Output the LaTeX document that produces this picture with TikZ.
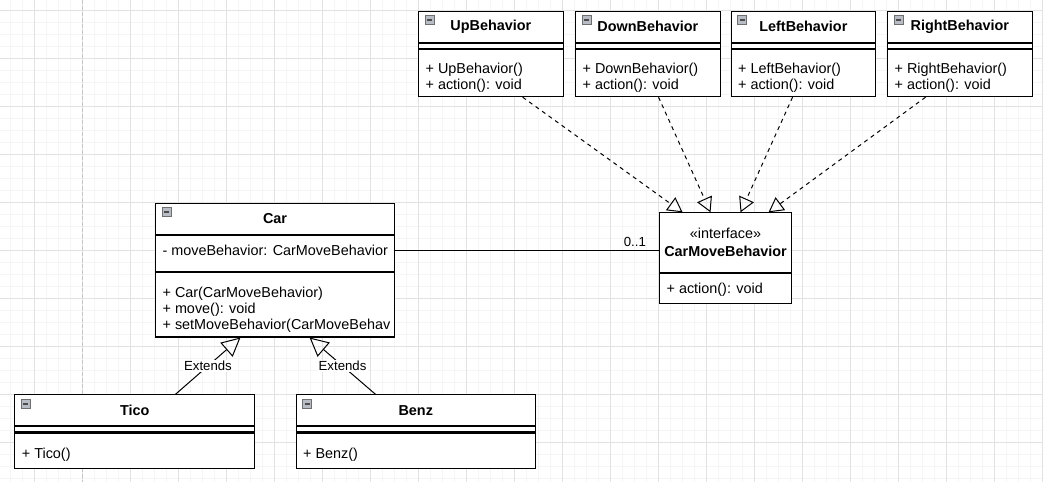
\documentclass[tikz,border=0pt]{standalone}
\usepackage{fontspec}
\setmainfont{Liberation Sans}
\usepackage{tikz}
\usetikzlibrary{arrows.meta}
\usetikzlibrary{positioning}

\definecolor{gridminor}{HTML}{F5F5F5}
\definecolor{gridmajor}{HTML}{E2E2E2}
\definecolor{pageline}{HTML}{C4C4C4}
\definecolor{iconfill}{HTML}{B8BCC4}
\definecolor{iconline}{HTML}{6E6E6E}

\newcommand{\umlfont}{\fontsize{10.8pt}{12pt}\selectfont}
\newcommand{\notefont}{\fontsize{9.9pt}{11pt}\selectfont}

\tikzset{
    umlbox/.style={draw, fill=white, inner sep=0pt, line width=0.8pt},
    classname/.style={umlbox, anchor=north west, minimum height=23.25pt, font=\umlfont\bfseries},
    withicon/.style={path picture={
        \draw [iconline, fill=iconfill, line width=0.4pt]
            ([shift={(6.5,4.5)}]path picture bounding box.north west) rectangle +(9,9);
        \draw [black!70, line width=1.1pt]
            ([shift={(8.5,9)}]path picture bounding box.north west) -- +(5,0);
    }},
    emptypart/.style={umlbox, minimum height=3.75pt},
    behaviour/.style={minimum width=108.5pt},
    members/.style={anchor=north west, align=left, inner sep=0pt, xshift=5.5pt, font=\umlfont},
    realizes/.style={line width=0.75pt, dash pattern=on 3pt off 3pt,
        -{Triangle[open, length=11pt, width=12pt]}},
    extends/.style={line width=0.75pt, -{Triangle[open, length=14pt, width=14pt]}},
    extlabel/.style={fill=white, inner sep=1pt, font=\notefont}
}

\begin{document}
\begin{tikzpicture}[x=0.75pt, y=-0.75pt]
    \useasboundingbox (0,0) rectangle (1043,482);
    % grid
    \foreach \gx in {10,22,...,1042}
        \draw [gridminor, line width=0.75pt] (\gx,0) -- (\gx,482);
    \foreach \gy in {10,22,...,478}
        \draw [gridminor, line width=0.75pt] (0,\gy) -- (1043,\gy);
    \foreach \gx in {34,82,...,1042}
        \draw [gridmajor, line width=0.75pt] (\gx,0) -- (\gx,482);
    \foreach \gy in {10,58,...,442}
        \draw [gridmajor, line width=0.75pt] (0,\gy) -- (1043,\gy);
    \draw [pageline, line width=0.75pt, dash pattern=on 3pt off 1.5pt] (82,0) -- (82,482);

    % behaviours
    \node [classname, withicon, behaviour] (up) at (418,10.5) {UpBehavior};
    \node [emptypart, behaviour] (upattr) [below=0pt of up] {};
    \node [umlbox, behaviour, minimum height=35.6pt,
        label={[members, yshift=-10.6pt]north west:{+ UpBehavior()\\+ action(): void}}]
        (upops) [below=0pt of upattr] {};

    \node [classname, withicon, behaviour] (down) at (575,10.5) {DownBehavior};
    \node [emptypart, behaviour] (downattr) [below=0pt of down] {};
    \node [umlbox, behaviour, minimum height=35.6pt,
        label={[members, yshift=-10.6pt]north west:{+ DownBehavior()\\+ action(): void}}]
        (downops) [below=0pt of downattr] {};

    \node [classname, withicon, behaviour] (left) at (730.5,10.5) {LeftBehavior};
    \node [emptypart, behaviour] (leftattr) [below=0pt of left] {};
    \node [umlbox, behaviour, minimum height=35.6pt,
        label={[members, yshift=-10.6pt]north west:{+ LeftBehavior()\\+ action(): void}}]
        (leftops) [below=0pt of leftattr] {};

    \node [classname, withicon, behaviour] (right) at (887,10.5) {RightBehavior};
    \node [emptypart, behaviour] (rightattr) [below=0pt of right] {};
    \node [umlbox, behaviour, minimum height=35.6pt,
        label={[members, yshift=-10.6pt]north west:{+ RightBehavior()\\+ action(): void}}]
        (rightops) [below=0pt of rightattr] {};

    % interface
    \node [classname, minimum width=99pt, minimum height=44.6pt, align=center, font=\umlfont]
        (cmb) at (659,212.3) {«interface»\\[1.2pt]\textbf{CarMoveBehavior}};
    \node [umlbox, minimum width=99pt, minimum height=22.5pt,
        label={[members, yshift=-7.3pt]north west:{+ action(): void}}]
        (cmbops) [below=0pt of cmb] {};

    % car and subclasses
    \node [classname, withicon, minimum width=179.25pt] (car) at (155,202.5) {Car};
    \node [umlbox, minimum width=179.25pt, minimum height=27.4pt,
        label={[members, yshift=-7.5pt]north west:{- moveBehavior: CarMoveBehavior}}]
        (carattr) [below=0pt of car] {};
    \node [umlbox, minimum width=179.25pt, minimum height=48.2pt,
        label={[members, yshift=-10.8pt]north west:{+ Car(CarMoveBehavior)\\+ move(): void\\+ setMoveBehavior(CarMoveBehav}}]
        (carops) [below=0pt of carattr] {};

    \node [classname, withicon, minimum width=180pt] (tico) at (14.3,394.3) {Tico};
    \node [emptypart, minimum width=180pt] (ticoattr) [below=0pt of tico] {};
    \node [umlbox, minimum width=180pt, minimum height=26.8pt,
        label={[members, yshift=-11.3pt]north west:{+ Tico()}}]
        (ticoops) [below=0pt of ticoattr] {};

    \node [classname, withicon, minimum width=179.6pt] (benz) at (295.5,394.3) {Benz};
    \node [emptypart, minimum width=179.6pt] (benzattr) [below=0pt of benz] {};
    \node [umlbox, minimum width=179.6pt, minimum height=26.8pt,
        label={[members, yshift=-11.3pt]north west:{+ Benz()}}]
        (benzops) [below=0pt of benzattr] {};

    \path [realizes]
        ([xshift=23.8pt]upops.south) edge ([xshift=-32.25pt]cmb.north)
        ([xshift=8pt]downops.south) edge ([xshift=-11.25pt]cmb.north)
        ([xshift=-8.1pt]leftops.south) edge ([xshift=11.25pt]cmb.north)
        ([xshift=-25.7pt]rightops.south) edge ([xshift=32.25pt]cmb.north);

    \draw [line width=0.75pt] ([yshift=2pt]carattr.east) -- ([yshift=2pt]carattr.east -| cmb.west)
        node [above left, font=\notefont, inner sep=2pt, xshift=-7.5pt, yshift=1pt] {0..1};

    \path [extends]
        ([xshift=30.5pt]tico.north) edge node [extlabel] {Extends} ([xshift=-25.9pt]carops.south)
        ([xshift=-30.2pt]benz.north) edge node [extlabel] {Extends} ([xshift=25.9pt]carops.south);
\end{tikzpicture}
\end{document}
